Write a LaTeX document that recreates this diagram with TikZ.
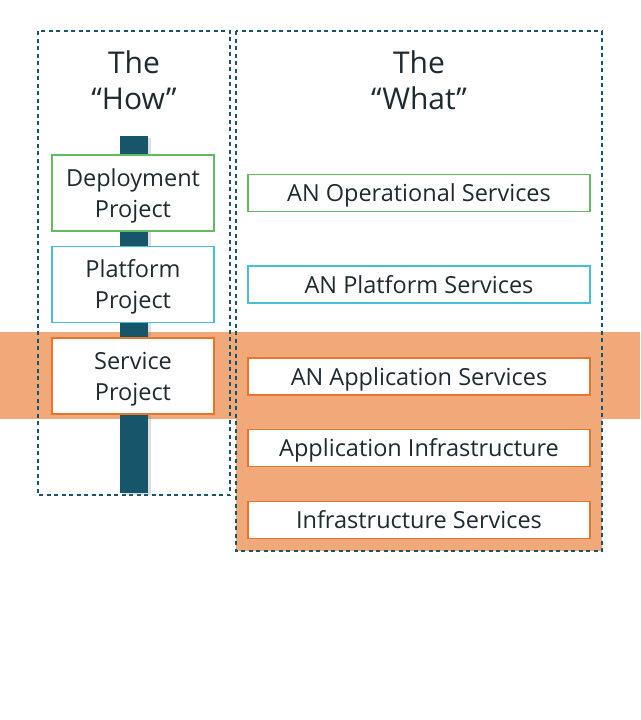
\documentclass[tikz,border=0pt]{standalone}
\usepackage{fontspec}
\setmainfont{Open Sans}
\usetikzlibrary{positioning,shadows}
\definecolor{anteal}{HTML}{17566A}
\definecolor{anorange}{HTML}{E8752B}
\definecolor{anband}{HTML}{F2A97A}
\definecolor{angreen}{HTML}{62BB5F}
\definecolor{ancyan}{HTML}{45BFD3}
\definecolor{antext}{HTML}{1E2A30}
\tikzset{
	frame/.style={draw=anteal, line width=1.5pt, dash pattern=on 4pt off 3.5pt},
	howbox/.style={draw=#1, line width=1.5pt, fill=white, text=antext, align=center,
			minimum width=162, minimum height=76, inner sep=0pt, text depth=0pt,
			font=\fontsize{23.5}{31}\selectfont},
	whatbox/.style={draw=#1, line width=1.5pt, fill=white, text=antext,
			minimum width=342, minimum height=37, inner sep=0pt,
			text height=17pt, text depth=0pt,
			font=\fontsize{23.5}{26}\selectfont},
	heading/.style={text=antext, align=center, font=\fontsize{30}{36}\selectfont}
}

\begin{document}
\begin{tikzpicture}[x=1pt, y=-1pt]
			\useasboundingbox (0, 0) rectangle (640, 720);

			% orange band and lower fill
			\fill[anband]	(0, 332) rectangle (640, 419);
			\fill[anband]	(236, 419) rectangle (602, 551);

			\draw[frame]	(38, 31) rectangle (230, 495);
			\draw[frame]	(236, 31) rectangle (602, 551);

			\node[heading] (how) at (134, 80) {The\\“How”};
			\node[heading] (what) at (419, 80) {The\\“What”};

			\node[fill=anteal, minimum width=28, minimum height=357, inner sep=0pt,
				drop shadow={shadow xshift=3pt, shadow yshift=-2pt, opacity=0.25}] (bar) at (134, 314.5) {};

			\node[howbox=angreen] (deploy) at (133, 193) {Deployment\\Project};
			\node[howbox=ancyan] (platform) at (133, 284.5) {Platform\\Project};
			\node[howbox=anorange] (service) at (133, 376) {Service\\Project};

			\node[whatbox=angreen] (opsvc) at (419, 193) {AN Operational Services};
			\node[whatbox=ancyan] (platsvc) at (419, 284.5) {AN Platform Services};
			\node[whatbox=anorange] (appsvc) at (419, 376.5) {AN Application Services};
			\node[whatbox=anorange] (appinfra) at (419, 448) {Application Infrastructure};
			\node[whatbox=anorange] (infrasvc) at (419, 520) {Infrastructure Services};
		\end{tikzpicture}
\end{document}
